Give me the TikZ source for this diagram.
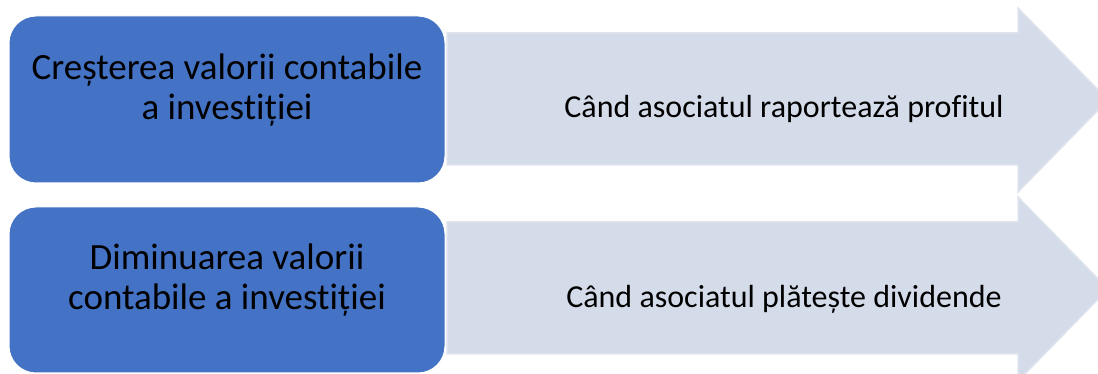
\documentclass[tikz,border=0pt]{standalone}
\usepackage{fontspec}
\setmainfont{Carlito}[Ligatures=NoCommon]
\definecolor{boxblue}{HTML}{4472C4}
\definecolor{arrowfill}{HTML}{D5DCE9}
\definecolor{arrowline}{HTML}{DFE3ED}
\begin{document}
\begin{tikzpicture}[x=1pt,y=1pt,
  valbox/.style={draw=white, line width=1pt, fill=boxblue, rounded corners=27pt, inner sep=0pt},
  boxtext/.style={align=center, text=black, font=\fontsize{37}{40}\selectfont, inner sep=0pt},
  arrowshape/.style={fill=arrowfill, draw=arrowline, line width=1.5pt, line join=miter},
  arrowtext/.style={text=black, font=\fontsize{32}{37}\selectfont, inner sep=0pt}]
\useasboundingbox (0,0) rectangle (1098,374);
% row 1
\draw[arrowshape] (447,341) -- (1018,341) -- (1018,366) -- (1108,274)
  -- (1018,182) -- (1018,209) -- (447,209) -- cycle;
\node[valbox, minimum width=436pt, minimum height=167pt] (b1) at (227,274.5) {};
\node[boxtext, anchor=base] (t1) at (227,254) {Creșterea valorii contabile\\a investiției};
\node[arrowtext, anchor=base] (a1) at (784,256) {Când asociatul raportează profitul};
% row 2
\draw[arrowshape] (447,152) -- (1018,152) -- (1018,177) -- (1108,85)
  -- (1018,-7) -- (1018,20) -- (447,20) -- cycle;
\node[valbox, minimum width=436pt, minimum height=166pt] (b2) at (227,84) {};
\node[boxtext, anchor=base] (t2) at (227,64) {Diminuarea valorii\\contabile a investiției};
\node[arrowtext, anchor=base] (a2) at (784,66) {Când asociatul plătește dividende};
\end{tikzpicture}
\end{document}
